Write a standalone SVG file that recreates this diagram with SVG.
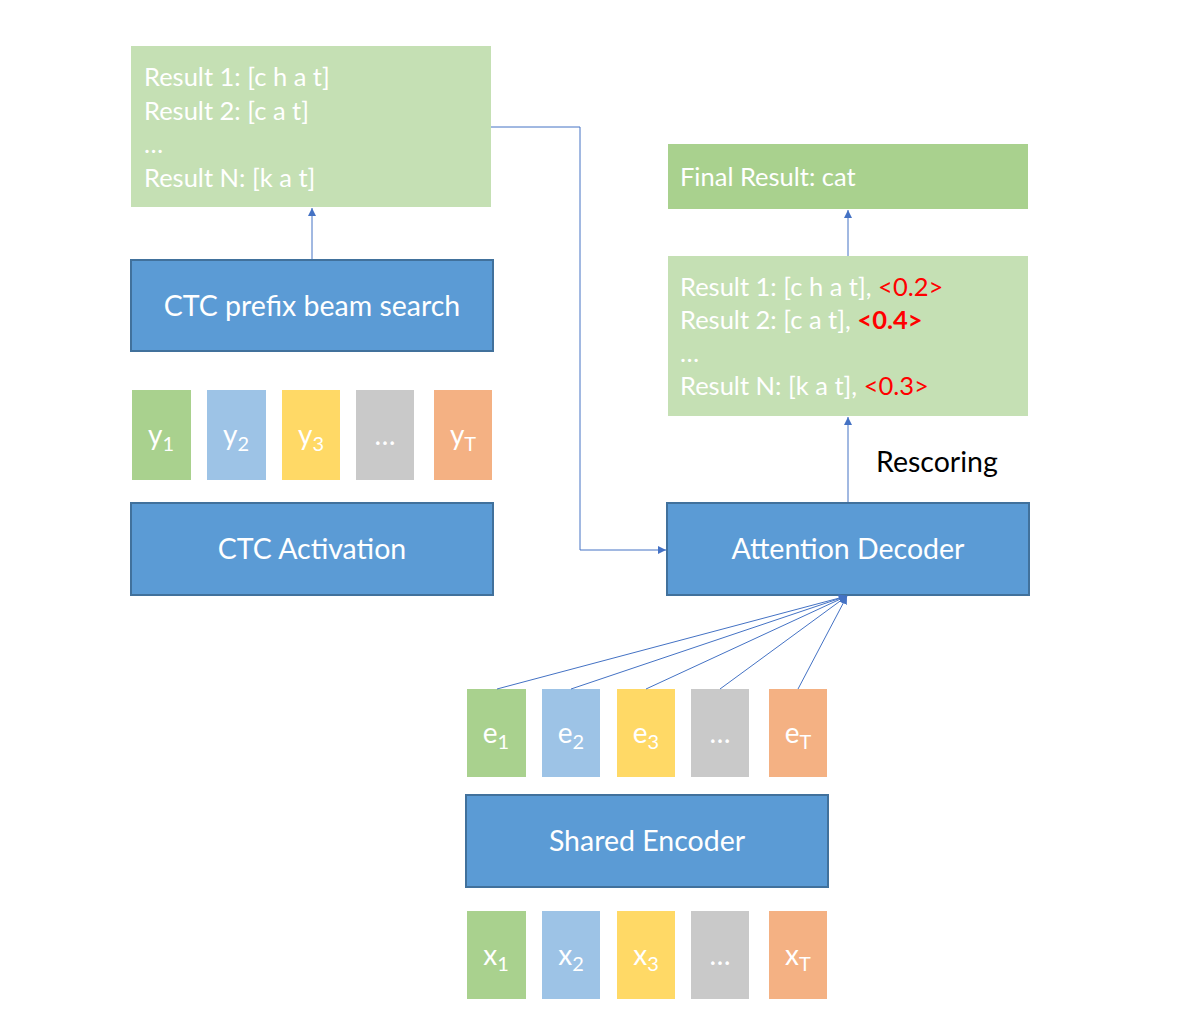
<svg xmlns="http://www.w3.org/2000/svg" width="1202" height="1022" viewBox="0 0 1202 1022">
<defs>
<marker id="ah" viewBox="0 0 10 10" refX="10" refY="5" markerWidth="8" markerHeight="8" markerUnits="userSpaceOnUse" orient="auto">
<path d="M0,0 L10,5 L0,10 z" fill="#4472C4"/>
</marker>
<style>
text{font-family:Lato,"Noto Sans",sans-serif;fill:#fff}
.big{font-size:28.5px}
.res{font-size:25.5px}
.blk{fill:#5B9BD5;stroke:#41719C;stroke-width:2}
.lg{fill:#C5E0B4}
.dg{fill:#A9D18E}
.c1{fill:#A9D18E}.c2{fill:#9DC3E6}.c3{fill:#FFD966}.c4{fill:#C9C9C9}.c5{fill:#F4B183}
.sub{font-size:20px}
.red{fill:#FF0000}
.con{fill:none;stroke:#4472C4;stroke-width:1}
.tok{font-size:28px;text-anchor:middle}
</style>
</defs>
<rect width="1202" height="1022" fill="#fff"/>

<g id="ctc-results">
<rect class="lg" x="131" y="46" width="360" height="161"/>
<text class="res" x="144" y="86">Result 1: [c h a t]</text>
<text class="res" x="144" y="120">Result 2: [c a t]</text>
<text class="res" x="144" y="153">…</text>
<text class="res" x="144" y="187">Result N: [k a t]</text>
</g>

<g id="ctc-beam">
<rect class="blk" x="131" y="260" width="362" height="91"/>
<text class="big" x="312" y="316" text-anchor="middle">CTC prefix beam search</text>
</g>

<g id="y-tokens">
<rect class="c1" x="132" y="390" width="59" height="90"/>
<rect class="c2" x="207" y="390" width="59" height="90"/>
<rect class="c3" x="282" y="390" width="58" height="90"/>
<rect class="c4" x="356" y="390" width="58" height="90"/>
<rect class="c5" x="434" y="390" width="58" height="90"/>
<text class="tok" x="161" y="445">y<tspan class="sub" dy="6">1</tspan></text>
<text class="tok" x="236" y="445">y<tspan class="sub" dy="6">2</tspan></text>
<text class="tok" x="311" y="445">y<tspan class="sub" dy="6">3</tspan></text>
<text class="tok" x="385" y="445">…</text>
<text class="tok" x="463" y="445">y<tspan class="sub" dy="6">T</tspan></text>
</g>

<g id="ctc-activation">
<rect class="blk" x="131" y="503" width="362" height="92"/>
<text class="big" x="312" y="559" text-anchor="middle">CTC Activation</text>
</g>

<g id="final-result">
<rect class="dg" x="668" y="144" width="360" height="65"/>
<text class="res" x="680" y="186">Final Result: cat</text>
</g>

<g id="rescored-results">
<rect class="lg" x="668" y="256" width="360" height="160"/>
<text class="res" x="680" y="296">Result 1: [c h a t], <tspan class="red">&lt;0.2&gt;</tspan></text>
<text class="res" x="680" y="329">Result 2: [c a t], <tspan class="red" font-weight="bold">&lt;0.4&gt;</tspan></text>
<text class="res" x="680" y="362">…</text>
<text class="res" x="680" y="395">Result N: [k a t], <tspan class="red">&lt;0.3&gt;</tspan></text>
</g>

<g id="rescoring-label">
<text class="big" x="876" y="472" style="fill:#000">Rescoring</text>
</g>

<g id="attention-decoder">
<rect class="blk" x="667" y="503" width="362" height="92"/>
<text class="big" x="848" y="559" text-anchor="middle">Attention Decoder</text>
</g>

<g id="e-tokens">
<rect class="c1" x="467" y="689" width="59" height="88"/>
<rect class="c2" x="542" y="689" width="58" height="88"/>
<rect class="c3" x="617" y="689" width="58" height="88"/>
<rect class="c4" x="691" y="689" width="58" height="88"/>
<rect class="c5" x="769" y="689" width="58" height="88"/>
<text class="tok" x="496" y="743">e<tspan class="sub" dy="6">1</tspan></text>
<text class="tok" x="571" y="743">e<tspan class="sub" dy="6">2</tspan></text>
<text class="tok" x="646" y="743">e<tspan class="sub" dy="6">3</tspan></text>
<text class="tok" x="720" y="743">…</text>
<text class="tok" x="798" y="743">e<tspan class="sub" dy="6">T</tspan></text>
</g>

<g id="shared-encoder">
<rect class="blk" x="466" y="795" width="362" height="92"/>
<text class="big" x="647" y="851" text-anchor="middle">Shared Encoder</text>
</g>

<g id="x-tokens">
<rect class="c1" x="467" y="911" width="59" height="88"/>
<rect class="c2" x="542" y="911" width="58" height="88"/>
<rect class="c3" x="617" y="911" width="58" height="88"/>
<rect class="c4" x="691" y="911" width="58" height="88"/>
<rect class="c5" x="769" y="911" width="58" height="88"/>
<text class="tok" x="496" y="965">x<tspan class="sub" dy="6">1</tspan></text>
<text class="tok" x="571" y="965">x<tspan class="sub" dy="6">2</tspan></text>
<text class="tok" x="646" y="965">x<tspan class="sub" dy="6">3</tspan></text>
<text class="tok" x="720" y="965">…</text>
<text class="tok" x="798" y="965">x<tspan class="sub" dy="6">T</tspan></text>
</g>

<g id="connectors">
<line class="con" x1="312" y1="259" x2="312" y2="208" marker-end="url(#ah)"/>
<polyline class="con" points="491,127 580,127 580,550 666,550" marker-end="url(#ah)"/>
<line class="con" x1="848" y1="256" x2="848" y2="210" marker-end="url(#ah)"/>
<line class="con" x1="848" y1="502" x2="848" y2="417" marker-end="url(#ah)"/>
<line class="con" x1="497" y1="689" x2="847" y2="596" marker-end="url(#ah)"/>
<line class="con" x1="571" y1="689" x2="847" y2="596" marker-end="url(#ah)"/>
<line class="con" x1="646" y1="689" x2="847" y2="596" marker-end="url(#ah)"/>
<line class="con" x1="720" y1="689" x2="847" y2="596" marker-end="url(#ah)"/>
<line class="con" x1="798" y1="689" x2="847" y2="596" marker-end="url(#ah)"/>
</g>
</svg>
